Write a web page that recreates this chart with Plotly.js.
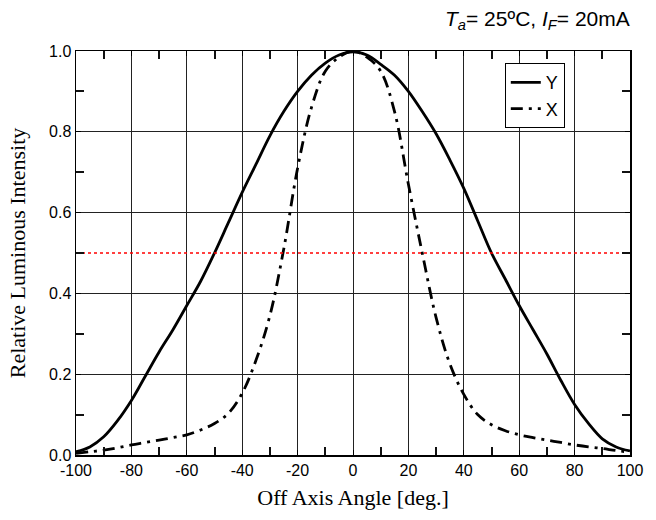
<!DOCTYPE html>
<html>
<head>
<meta charset="utf-8">
<script src="https://cdn.plot.ly/plotly-3.0.1.min.js"></script>
<style>html,body{margin:0;padding:0;background:#fff;}#chart{width:656px;height:520px;}</style>
</head>
<body>
<div id="chart"></div>
<script>
var angles = [-100,-95,-90,-85,-80,-75,-70,-65,-60,-55,-50,-45,-40,-35,-30,-25,-20,-15,-10,-5,0,5,10,15,20,25,30,35,40,45,50,55,60,65,70,75,80,85,90,95,100];
var seriesY = [0.008,0.02,0.045,0.085,0.135,0.195,0.255,0.31,0.37,0.43,0.5,0.575,0.65,0.72,0.79,0.85,0.9,0.94,0.97,0.99,0.998,0.99,0.967,0.94,0.9,0.85,0.795,0.73,0.66,0.58,0.5,0.435,0.37,0.31,0.25,0.185,0.125,0.078,0.04,0.02,0.01];
var seriesX = [0.004,0.008,0.012,0.018,0.025,0.031,0.037,0.043,0.05,0.062,0.078,0.103,0.153,0.235,0.345,0.51,0.71,0.86,0.95,0.985,1.0,0.985,0.95,0.85,0.67,0.5,0.34,0.225,0.15,0.1,0.075,0.06,0.05,0.043,0.037,0.031,0.025,0.02,0.016,0.011,0.007];
var halfLevel = [0.5, 0.5];
var halfRange = [-100, 100];
var xTicks = [-100,-80,-60,-40,-20,0,20,40,60,80,100];
var xMinorTicks = [-90,-70,-50,-30,-10,10,30,50,70,90];
var yTicks = [0.0,0.2,0.4,0.6,0.8,1.0];
var yTickText = ['0.0','0.2','0.4','0.6','0.8','1.0'];
var yMinorTicks = [0.1,0.3,0.5,0.7,0.9];

var traces = [
  {x: halfRange, y: halfLevel, xaxis: 'x2', yaxis: 'y2', mode: 'lines', showlegend: false, hoverinfo: 'skip',
   line: {color: '#ff0000', width: 1.5, dash: 'dot'}},
  {x: angles, y: seriesY, name: 'Y', mode: 'lines',
   line: {color: '#000', width: 2.8, shape: 'spline', smoothing: 1}},
  {x: angles, y: seriesX, name: 'X', mode: 'lines',
   line: {color: '#000', width: 2.8, shape: 'spline', smoothing: 1, dash: '12px,6px,3px,6px'}}
];

var tickFont = {family: 'Liberation Sans, Arial, sans-serif', size: 16, color: '#000'};
var axisCommon = {
  showline: true, linecolor: '#000', linewidth: 1.5, mirror: 'ticks',
  ticks: 'inside', ticklen: 5, tickcolor: '#000', tickwidth: 1,
  showgrid: true, gridcolor: '#222', gridwidth: 1, zeroline: false,
  tickfont: tickFont
};
var minorCommon = {
  showline: true, linecolor: '#000', linewidth: 1.5, mirror: 'ticks',
  ticks: 'inside', ticklen: 8, tickcolor: '#111111', tickwidth: 2,
  showgrid: false, zeroline: false, showticklabels: false
};

var layout = {
  width: 656, height: 520,
  margin: {l: 75.5, r: 25.5, t: 51, b: 65},
  paper_bgcolor: '#fff', plot_bgcolor: '#fff',
  showlegend: true,
  legend: {x: 0.774, y: 0.97, xanchor: 'left', yanchor: 'top',
    bordercolor: '#000', borderwidth: 1, bgcolor: '#fff',
    font: {family: 'Liberation Sans, Arial, sans-serif', size: 18, color: '#000'},
    tracegroupgap: 0, itemwidth: 30},
  xaxis: Object.assign({}, axisCommon, {
    range: [-100, 100], tickmode: 'array', tickvals: xTicks, ticktext: xTicks.map(String),
    title: {text: 'Off Axis Angle [deg.]', standoff: 12,
      font: {family: 'Liberation Serif, Times New Roman, serif', size: 22, color: '#000'}}
  }),
  yaxis: Object.assign({}, axisCommon, {
    range: [0, 1], tickmode: 'array', tickvals: yTicks, ticktext: yTickText,
    title: {text: 'Relative Luminous Intensity', standoff: 17,
      font: {family: 'Liberation Serif, Times New Roman, serif', size: 22, color: '#000'}}
  }),
  xaxis2: Object.assign({}, minorCommon, {
    overlaying: 'x', anchor: 'y2', side: 'bottom',
    range: [-100, 100], tickmode: 'array', tickvals: xMinorTicks
  }),
  yaxis2: Object.assign({}, minorCommon, {
    overlaying: 'y', anchor: 'x2', side: 'left',
    range: [0, 1], tickmode: 'array', tickvals: yMinorTicks
  }),
  annotations: [{
    xref: 'paper', yref: 'paper', x: 1.003, y: 1.04, xanchor: 'right', yanchor: 'bottom',
    showarrow: false,
    text: '<i>T<sub>a</sub></i>= 25ºC, <i>I<sub>F</sub></i>= 20mA',
    font: {family: 'Liberation Sans, Arial, sans-serif', size: 21, color: '#000'}
  }]
};

Plotly.newPlot('chart', traces, layout, {displayModeBar: false, staticPlot: true});
</script>
</body>
</html>
